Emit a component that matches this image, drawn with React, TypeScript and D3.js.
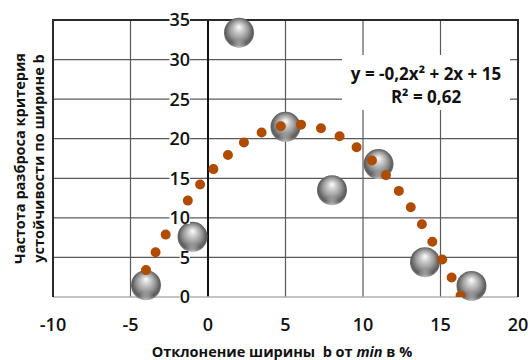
import React from "react";
import * as d3 from "d3";

// Observations: deviation of width b from its minimum (%) vs. scatter frequency
const deviation = [-4, -1, 2, 5, 8, 11, 14, 17];
const frequency = [1.5, 7.6, 33.4, 21.5, 13.5, 16.8, 4.4, 1.4];

const xTicks = [-10, -5, 0, 5, 10, 15, 20];
const yTicks = [0, 5, 10, 15, 20, 25, 30, 35];

const equationLine = "y = -0,2x² + 2x + 15";
const rSquaredLine = "R² = 0,62";

const xTitle = ["Отклонение ширины  b от ", "min", " в %"];
const yTitle = ["Частота разброса критерия", "устойчивости по ширине b"];

// Least-squares fit of a second-order polynomial: returns [a, b, c] for a·x² + b·x + c
function polyfit2(xs: number[], ys: number[]): number[] {
  const s = (p: number) => d3.sum(xs, (x) => Math.pow(x, p));
  const t = (p: number) => d3.sum(xs, (x, i) => Math.pow(x, p) * ys[i]);
  const m = [
    [s(4), s(3), s(2), t(2)],
    [s(3), s(2), s(1), t(1)],
    [s(2), s(1), xs.length, t(0)],
  ];
  for (let i = 0; i < 3; i++) {
    for (let k = i + 1; k < 3; k++) {
      const f = m[k][i] / m[i][i];
      for (let j = i; j < 4; j++) m[k][j] -= f * m[i][j];
    }
  }
  const r = [0, 0, 0];
  for (let i = 2; i >= 0; i--) {
    let v = m[i][3];
    for (let j = i + 1; j < 3; j++) v -= m[i][j] * r[j];
    r[i] = v / m[i][i];
  }
  return r;
}

const W = 531;
const H = 360;
const left = 53;
const right = 518;
const top = 20;
const bottom = 297;

export default function App() {
  const x = d3.scaleLinear().domain([-10, 20]).range([left, right]);
  const y = d3.scaleLinear().domain([0, 35]).range([bottom, top]);

  const [a, b, c] = polyfit2(deviation, frequency);
  const [x0, x1] = d3.extent(deviation) as [number, number];
  const trend = d3.range(x0, x1 + 1e-9, 0.05).map((v) => [v, a * v * v + b * v + c] as [number, number]);
  const trendPath = d3
    .line<[number, number]>()
    .x((d) => x(d[0]))
    .y((d) => y(d[1]))(trend) as string;

  const font = "'Open Sans', sans-serif";
  const tickSize = 18;

  return (
    <div style={{ position: "fixed", left: 0, top: 0 }}>
      <svg width={W} height={H} style={{ display: "block", background: "#fff" }}>
        <defs>
          <radialGradient id="ball" cx="50%" cy="48%" r="54%" fx="50%" fy="30%">
            <stop offset="0" stopColor="#ffffff" />
            <stop offset="0.18" stopColor="#dcdcdc" />
            <stop offset="0.55" stopColor="#9c9c9c" />
            <stop offset="0.85" stopColor="#5c5c5c" />
            <stop offset="1" stopColor="#808080" />
          </radialGradient>
          <radialGradient id="ballRim" cx="50%" cy="100%" r="60%">
            <stop offset="0" stopColor="#ffffff" stopOpacity="0.55" />
            <stop offset="0.5" stopColor="#ffffff" stopOpacity="0" />
          </radialGradient>
          <clipPath id="plotClip">
            <rect x={left} y={top} width={right - left} height={bottom - top} />
          </clipPath>
        </defs>

        {/* gridlines */}
        {yTicks.slice(1, -1).map((t) => (
          <line key={"gy" + t} x1={left} x2={right} y1={y(t)} y2={y(t)} stroke="#5a5a5a" strokeWidth={1.2} />
        ))}
        {xTicks.slice(1, -1).map((t) => (
          <line
            key={"gx" + t}
            x1={x(t)}
            x2={x(t)}
            y1={top}
            y2={bottom}
            stroke={t === 0 ? "#111" : "#5a5a5a"}
            strokeWidth={t === 0 ? 2 : 1.2}
          />
        ))}

        {/* plot frame */}
        <line x1={left} x2={right} y1={bottom} y2={bottom} stroke="#b0b0b0" strokeWidth={1.5} />
        <path
          d={`M${left},${bottom}V${top}H${right}V${bottom}`}
          fill="none"
          stroke="#2a2a2a"
          strokeWidth={2}
        />

        {/* observations */}
        <g>
          {deviation.map((d, i) => (
            <g key={"p" + i}>
              <circle cx={x(d)} cy={y(frequency[i])} r={15} fill="url(#ball)" />
              <circle cx={x(d)} cy={y(frequency[i])} r={15} fill="url(#ballRim)" />
            </g>
          ))}
        </g>

        {/* polynomial trendline, dotted */}
        <path
          d={trendPath}
          clipPath="url(#plotClip)"
          fill="none"
          stroke="#b04c00"
          strokeWidth={10}
          strokeLinecap="round"
          strokeDasharray="0 20.3"
        />

        {/* y tick labels beside the vertical axis */}
        {yTicks.map((t) => {
          const w = String(t).length * 0.572 * tickSize;
          return (
            <g key={"ty" + t}>
              <rect x={190 - w} y={y(t) - 6} width={w} height={12} fill="#fff" />
              <text
                x={190}
                y={y(t)}
                dy="0.36em"
                textAnchor="end"
                fontFamily={font}
                fontWeight={600}
                fontSize={tickSize}
                fill="#111"
              >
                {t}
              </text>
            </g>
          );
        })}

        {/* x tick labels */}
        {xTicks.map((t) => (
          <text
            key={"tx" + t}
            x={x(t)}
            y={331}
            textAnchor="middle"
            fontFamily={font}
            fontWeight={600}
            fontSize={tickSize}
            fill="#111"
          >
            {t}
          </text>
        ))}

        {/* equation box */}
        <rect x={342} y={55} width={168} height={55} fill="#fff" />
        <text x={426} y={80} textAnchor="middle" fontFamily={font} fontWeight={700} fontSize={17} fill="#111">
          {equationLine}
        </text>
        <text x={426} y={103} textAnchor="middle" fontFamily={font} fontWeight={700} fontSize={17} fill="#111">
          {rSquaredLine}
        </text>

        {/* axis titles */}
        <text
          x={282}
          y={357}
          textAnchor="middle"
          fontFamily={font}
          fontWeight={700}
          fontSize={14.5}
          fill="#111"
          style={{ whiteSpace: "pre" }}
        >
          <tspan>{xTitle[0]}</tspan>
          <tspan fontStyle="italic">{xTitle[1]}</tspan>
          <tspan>{xTitle[2]}</tspan>
        </text>
        {yTitle.map((line, i) => (
          <text
            key={"yt" + i}
            transform={`translate(${25 + i * 19},${158.5}) rotate(-90)`}
            textAnchor="middle"
            fontFamily={font}
            fontWeight={700}
            fontSize={14.5}
            fill="#111"
          >
            {line}
          </text>
        ))}
      </svg>
    </div>
  );
}
